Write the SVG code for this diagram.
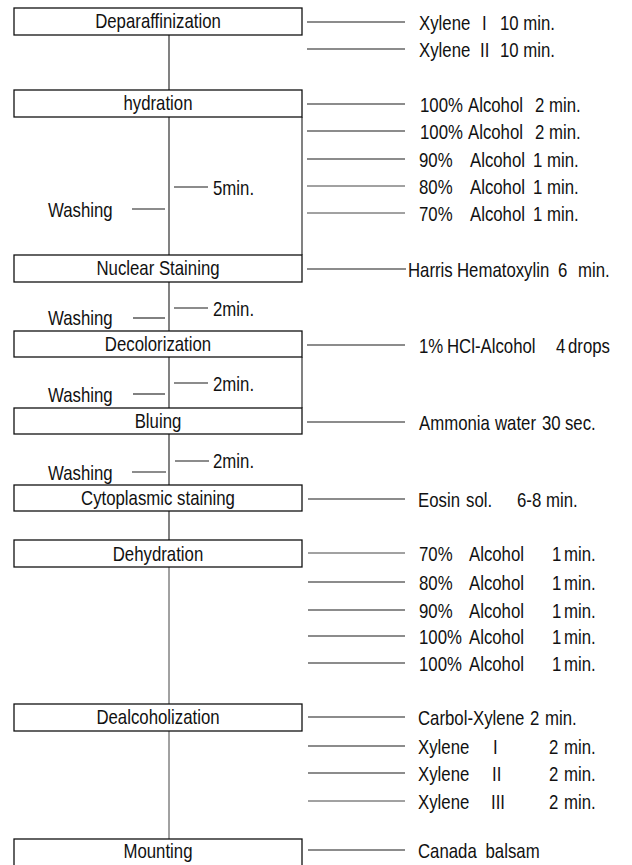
<svg xmlns="http://www.w3.org/2000/svg" width="632" height="865" viewBox="0 0 632 865">
<style>
  .box { fill: #fff; stroke: #111; stroke-width: 1.3; }
  .ln { stroke: #1a1a1a; stroke-width: 1.1; fill: none; }
  .fl { stroke: #444; stroke-width: 1; fill: none; }
  text { font-family: "Liberation Sans", Arial, sans-serif; font-size: 20px; fill: #111; }
  .c { text-anchor: middle; }
</style>
<rect width="632" height="865" fill="#fff"/>

<g id="connectors">
  <!-- main vertical flow -->
  <line class="ln" x1="169" y1="35" x2="169" y2="90"/>
  <line class="ln" x1="169" y1="117" x2="169" y2="255"/>
  <line class="ln" x1="169" y1="282" x2="169" y2="331"/>
  <line class="ln" x1="169" y1="357" x2="169" y2="408"/>
  <line class="ln" x1="169" y1="434" x2="169" y2="485"/>
  <line class="ln" x1="169" y1="511" x2="169" y2="540"/>
  <line class="fl" x1="169" y1="567" x2="169" y2="704"/>
  <line class="fl" x1="169" y1="731" x2="169" y2="839"/>
  <!-- right brackets -->
  <line class="ln" x1="302" y1="117" x2="302" y2="255"/>
  <line class="ln" x1="302" y1="357" x2="302" y2="408"/>
  <!-- washing ticks -->
  <line class="ln" x1="132" y1="209" x2="165" y2="209"/>
  <line class="ln" x1="174" y1="187" x2="208" y2="187"/>
  <line class="ln" x1="133" y1="318" x2="165" y2="318"/>
  <line class="ln" x1="174" y1="308" x2="208" y2="308"/>
  <line class="ln" x1="133" y1="394" x2="165" y2="394"/>
  <line class="ln" x1="174" y1="383" x2="208" y2="383"/>
  <line class="ln" x1="132" y1="472" x2="166" y2="472"/>
  <line class="ln" x1="175" y1="461" x2="209" y2="461"/>
  <!-- reagent leaders -->
  <line class="ln" x1="307" y1="22" x2="405" y2="22"/>
  <line class="ln" x1="307" y1="49" x2="405" y2="49"/>
  <line class="ln" x1="307" y1="104" x2="405" y2="104"/>
  <line class="ln" x1="307" y1="131" x2="405" y2="131"/>
  <line class="ln" x1="307" y1="159" x2="405" y2="159"/>
  <line class="fl" x1="307" y1="186" x2="405" y2="186"/>
  <line class="fl" x1="307" y1="213" x2="405" y2="213"/>
  <line class="ln" x1="307" y1="269" x2="406" y2="269"/>
  <line class="ln" x1="307" y1="345" x2="405" y2="345"/>
  <line class="ln" x1="307" y1="422" x2="405" y2="422"/>
  <line class="ln" x1="308" y1="499" x2="405" y2="499"/>
  <line class="fl" x1="308" y1="553" x2="405" y2="553"/>
  <line class="ln" x1="308" y1="582" x2="405" y2="582"/>
  <line class="ln" x1="308" y1="610" x2="405" y2="610"/>
  <line class="ln" x1="308" y1="636" x2="405" y2="636"/>
  <line class="ln" x1="308" y1="663" x2="405" y2="663"/>
  <line class="ln" x1="308" y1="717" x2="405" y2="717"/>
  <line class="ln" x1="308" y1="746" x2="405" y2="746"/>
  <line class="ln" x1="308" y1="773" x2="405" y2="773"/>
  <line class="fl" x1="308" y1="801" x2="405" y2="801"/>
  <line class="ln" x1="308" y1="850" x2="405" y2="850"/>
</g>

<g id="n-deparaffinization"><rect class="box" x="14" y="8" width="288" height="27"/></g>
<g id="n-hydration"><rect class="box" x="14" y="90" width="288" height="27"/></g>
<g id="n-nuclear"><rect class="box" x="14" y="255" width="288" height="27"/></g>
<g id="n-decolorization"><rect class="box" x="14" y="331" width="288" height="26"/></g>
<g id="n-bluing"><rect class="box" x="14" y="408" width="288" height="26"/></g>
<g id="n-cytoplasmic"><rect class="box" x="14" y="485" width="288" height="26"/></g>
<g id="n-dehydration"><rect class="box" x="14" y="540" width="288" height="27"/></g>
<g id="n-dealcoholization"><rect class="box" x="14" y="704" width="288" height="27"/></g>
<g id="n-mounting"><rect class="box" x="14" y="839" width="288" height="30"/></g>

<g id="labels" transform="scale(0.84,1)">
  <!-- node labels -->
  <text class="c" x="188.1" y="28.5">Deparaffinization</text>
  <text class="c" x="188.1" y="110.5">hydration</text>
  <text class="c" x="188.1" y="275.5">Nuclear  Staining</text>
  <text class="c" x="188.1" y="351">Decolorization</text>
  <text class="c" x="188.1" y="428">Bluing</text>
  <text class="c" x="188.1" y="505">Cytoplasmic  staining</text>
  <text class="c" x="188.1" y="561">Dehydration</text>
  <text class="c" x="188.1" y="724.5">Dealcoholization</text>
  <text class="c" x="188.1" y="858">Mounting</text>

  <!-- washing -->
  <text x="57.1" y="217">Washing</text>
  <text x="253.6" y="195">5min.</text>
  <text x="57.1" y="325">Washing</text>
  <text x="253.6" y="316">2min.</text>
  <text x="57.1" y="402">Washing</text>
  <text x="253.6" y="391">2min.</text>
  <text x="57.1" y="480">Washing</text>
  <text x="253.6" y="468">2min.</text>

  <!-- reagents -->
  <text y="30"><tspan x="498.8">Xylene</tspan><tspan x="573.8">I</tspan><tspan x="595.2">10 min.</tspan></text>
  <text y="57"><tspan x="498.8">Xylene</tspan><tspan x="571.4">II</tspan><tspan x="595.2">10 min.</tspan></text>
  <text y="112"><tspan x="500">100%</tspan><tspan x="557.1">Alcohol</tspan><tspan x="636.9">2</tspan><tspan x="653.6">min.</tspan></text>
  <text y="139"><tspan x="500">100%</tspan><tspan x="557.1">Alcohol</tspan><tspan x="636.9">2</tspan><tspan x="653.6">min.</tspan></text>
  <text y="167"><tspan x="498.8">90%</tspan><tspan x="559.5">Alcohol</tspan><tspan x="634.5">1</tspan><tspan x="651.2">min.</tspan></text>
  <text y="194"><tspan x="498.8">80%</tspan><tspan x="559.5">Alcohol</tspan><tspan x="634.5">1</tspan><tspan x="651.2">min.</tspan></text>
  <text y="221"><tspan x="498.8">70%</tspan><tspan x="559.5">Alcohol</tspan><tspan x="634.5">1</tspan><tspan x="651.2">min.</tspan></text>
  <text y="277"><tspan x="485.7">Harris</tspan><tspan x="544">Hematoxylin</tspan><tspan x="664.3">6</tspan><tspan x="688.1">min.</tspan></text>
  <text y="353"><tspan x="498.8">1%</tspan><tspan x="532.1">HCl-Alcohol</tspan><tspan x="661.9">4</tspan><tspan x="676.2">drops</tspan></text>
  <text y="430"><tspan x="498.8">Ammonia</tspan><tspan x="589.3">water</tspan><tspan x="645.2">30</tspan><tspan x="672.6">sec.</tspan></text>
  <text y="507"><tspan x="497.6">Eosin</tspan><tspan x="554.8">sol.</tspan><tspan x="615.5">6-8</tspan><tspan x="650">min.</tspan></text>
  <text y="561"><tspan x="498.8">70%</tspan><tspan x="558.3">Alcohol</tspan><tspan x="657.1">1</tspan><tspan x="671.4">min.</tspan></text>
  <text y="590"><tspan x="498.8">80%</tspan><tspan x="558.3">Alcohol</tspan><tspan x="657.1">1</tspan><tspan x="671.4">min.</tspan></text>
  <text y="618"><tspan x="498.8">90%</tspan><tspan x="558.3">Alcohol</tspan><tspan x="657.1">1</tspan><tspan x="671.4">min.</tspan></text>
  <text y="644"><tspan x="498.8">100%</tspan><tspan x="558.3">Alcohol</tspan><tspan x="657.1">1</tspan><tspan x="671.4">min.</tspan></text>
  <text y="671"><tspan x="498.8">100%</tspan><tspan x="558.3">Alcohol</tspan><tspan x="657.1">1</tspan><tspan x="671.4">min.</tspan></text>
  <text y="725"><tspan x="497.6">Carbol-Xylene</tspan><tspan x="631">2</tspan><tspan x="648.8">min.</tspan></text>
  <text y="754"><tspan x="497.6">Xylene</tspan><tspan x="586.9">I</tspan><tspan x="653.6">2</tspan><tspan x="671.4">min.</tspan></text>
  <text y="781"><tspan x="497.6">Xylene</tspan><tspan x="585.7">II</tspan><tspan x="653.6">2</tspan><tspan x="671.4">min.</tspan></text>
  <text y="809"><tspan x="497.6">Xylene</tspan><tspan x="584.5">III</tspan><tspan x="653.6">2</tspan><tspan x="671.4">min.</tspan></text>
  <text y="858"><tspan x="497.6">Canada</tspan><tspan x="578">balsam</tspan></text>
</g>
</svg>
